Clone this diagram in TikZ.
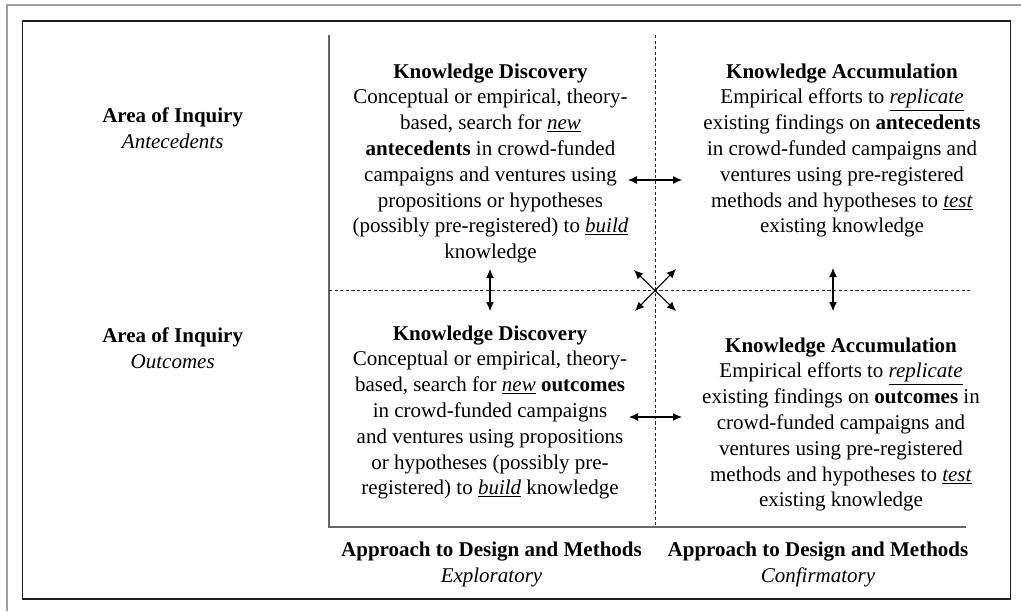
\documentclass[tikz,border=0pt]{standalone}
\usepackage{fontspec}
\setmainfont{Liberation Serif}
\usetikzlibrary{arrows.meta}
\begin{document}
\begin{tikzpicture}[x=1pt,y=-1pt,
  txt/.style={align=center,inner sep=0pt,font={\fontsize{21}{25.8}\selectfont}},
  axisline/.style={draw=black!60,line width=1.8pt},
  divider/.style={draw=black!85,line width=0.8pt,dash pattern=on 3.2pt off 2.4pt},
  dbl/.style={line width=1.1pt,{Latex[length=9pt,width=8pt]}-{Latex[length=9pt,width=8pt]}}]
\useasboundingbox (0,0) rectangle (1021,611);
% outer frame (top and left edges)
\draw[black!38,line width=2.2pt] (7,611) -- (7,5) -- (1021,5);
% inner frame
\draw[black!88,line width=1.7pt] (22.5,21) rectangle (1010.5,599);
% axes
\coordinate (O) at (329,527);
\coordinate (Ytop) at (329,35);
\coordinate (Xend) at (966,527);
\draw[axisline] (Ytop) -- (O) -- (Xend);
% quadrant dividers
\coordinate (Vtop) at (655,35);
\coordinate (Vbot) at (655,527);
\coordinate (Hl) at (329,290);
\coordinate (Hr) at (970,290);
\draw[divider] (Vtop) -- (Vbot);
\draw[divider] (Hl) -- (Hr);
% row labels
\node[txt] (rowA) at (172.7,128.4) {\textbf{Area of Inquiry}\\\textit{Antecedents}};
\node[txt] (rowO) at (172.7,348.4) {\textbf{Area of Inquiry}\\\textit{Outcomes}};
% column labels
\node[txt] (colE) at (491.5,564.3) {\textbf{Approach to Design and Methods}\\\textit{Exploratory}};
\node[txt] (colC) at (818,564.3) {\textbf{Approach to Design and Methods}\\\textit{Confirmatory}};
% quadrants
\node[txt] (kdA) at (490.5,163.4) {\textbf{Knowledge Discovery}\\
  Conceptual or empirical, theory-\\
  based, search for \underline{\textit{new}}\\
  \textbf{antecedents} in crowd-funded\\
  campaigns and ventures using\\
  propositions or hypotheses\\
  (possibly pre-registered) to \underline{\textit{build}}\\
  knowledge};
\node[txt] (kaA) at (842,150.5) {\textbf{Knowledge Accumulation}\\
  Empirical efforts to \underline{\textit{replicate}}\\
  existing findings on \textbf{antecedents}\\
  in crowd-funded campaigns and\\
  ventures using pre-registered\\
  methods and hypotheses to \underline{\textit{test}}\\
  existing knowledge};
\node[txt] (kdO) at (490,412.5) {\textbf{Knowledge Discovery}\\
  Conceptual or empirical, theory-\\
  based, search for \underline{\textit{new}} \textbf{outcomes}\\
  in crowd-funded campaigns\\
  and ventures using propositions\\
  or hypotheses (possibly pre-\\
  registered) to \underline{\textit{build}} knowledge};
\node[txt] (kaO) at (841,424.5) {\textbf{Knowledge Accumulation}\\
  Empirical efforts to \underline{\textit{replicate}}\\
  existing findings on \textbf{outcomes} in\\
  crowd-funded campaigns and\\
  ventures using pre-registered\\
  methods and hypotheses to \underline{\textit{test}}\\
  existing knowledge};
% links between quadrants
\coordinate (a1) at (628,180);  \coordinate (a2) at (682,180);
\coordinate (b1) at (629,417);  \coordinate (b2) at (682,417);
\coordinate (c1) at (490,269);  \coordinate (c2) at (490,311);
\coordinate (d1) at (833,268);  \coordinate (d2) at (833,311);
\coordinate (e1) at (634,270);  \coordinate (e2) at (676,311);
\coordinate (f1) at (676,269);  \coordinate (f2) at (635,311);
\draw[dbl] (a1) -- (a2);
\draw[dbl] (b1) -- (b2);
\draw[dbl] (c1) -- (c2);
\draw[dbl] (d1) -- (d2);
\draw[dbl] (e1) -- (e2);
\draw[dbl] (f1) -- (f2);
\end{tikzpicture}
\end{document}
